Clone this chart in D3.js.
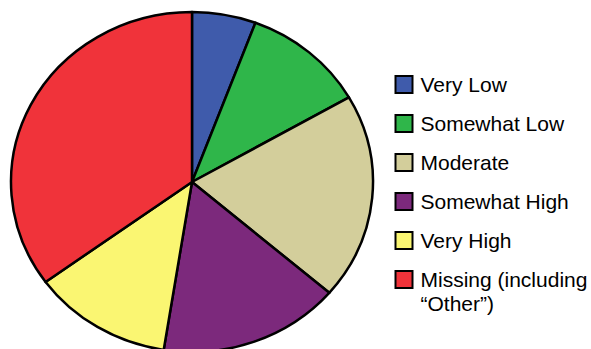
<!DOCTYPE html>
<html>
<head>
<meta charset="utf-8">
<script src="https://cdn.jsdelivr.net/npm/d3@7"></script>
<style>
  body { margin: 0; background: #fff; }
  svg { display: block; }
</style>
</head>
<body>
<div id="chart"></div>
<script>
// values (percent of total)
const categories = ["Very Low", "Somewhat Low", "Moderate", "Somewhat High", "Very High", "Missing (including|\u201cOther\u201d)"];
const values = [5.7, 11.0, 19.6, 16.2, 12.5, 35.0];
const colors = ["#3f5bab", "#2fb64a", "#d3ce9b", "#7c297c", "#faf672", "#f0333a"];

const W = 591, H = 349;
const cx = 192, cy = 182, ry = 170, rx = 181;

const svg = d3.select("#chart").append("svg")
  .attr("width", W)
  .attr("height", H);

const pie = d3.pie().sort(null).value((d) => d);
const arc = d3.arc().innerRadius(0).outerRadius(ry);

const g = svg.append("g")
  .attr("transform", `translate(${cx},${cy}) scale(${rx / ry},1)`);

g.selectAll("path")
  .data(pie(values))
  .join("path")
  .attr("d", arc)
  .attr("fill", (d, i) => colors[i])
  .attr("stroke", "#000")
  .attr("stroke-width", 2.5)
  .attr("stroke-linejoin", "round")
  .attr("vector-effect", "non-scaling-stroke");

// legend
const yPos = d3.scalePoint().domain(d3.range(categories.length)).range([92, 287]);

const legend = svg.append("g")
  .selectAll("g")
  .data(categories)
  .join("g")
  .attr("transform", (d, i) => `translate(395,${yPos(i)})`);

legend.append("rect")
  .attr("x", 0.5)
  .attr("y", -16)
  .attr("width", 17)
  .attr("height", 17)
  .attr("fill", (d, i) => colors[i])
  .attr("stroke", "#000")
  .attr("stroke-width", 2);

legend.append("text")
  .attr("x", 25.5)
  .attr("y", 0)
  .style("font-family", "'Liberation Sans', Arial, sans-serif")
  .style("font-size", "21px")
  .attr("fill", "#000")
  .selectAll("tspan")
  .data((d) => d.split("|"))
  .join("tspan")
  .attr("x", 25.5)
  .attr("dy", (d, i) => (i === 0 ? 0 : 23.5))
  .text((d) => d);
</script>
</body>
</html>
